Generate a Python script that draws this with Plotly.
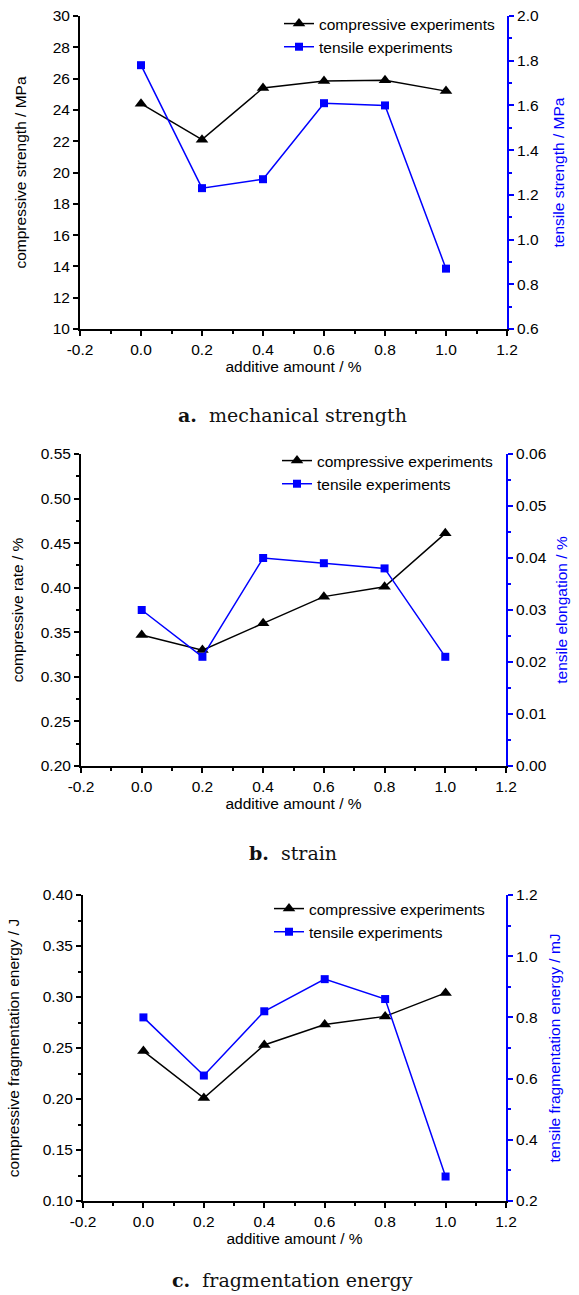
import plotly.graph_objects as go

# ---------------- data ----------------
additive = [0.0, 0.2, 0.4, 0.6, 0.8, 1.0]

# a. mechanical strength
comp_strength = [24.4, 22.1, 25.4, 25.85, 25.9, 25.2]      # MPa
tens_strength = [1.78, 1.23, 1.27, 1.61, 1.60, 0.87]       # MPa

# b. strain
comp_rate = [0.347, 0.330, 0.360, 0.390, 0.401, 0.461]     # %
tens_elong = [0.030, 0.021, 0.040, 0.039, 0.038, 0.021]    # %

# c. fragmentation energy
comp_energy = [0.247, 0.201, 0.253, 0.273, 0.281, 0.304]   # J
tens_energy = [0.80, 0.61, 0.82, 0.925, 0.86, 0.28]        # mJ

x_tickvals = [-0.2, 0.0, 0.2, 0.4, 0.6, 0.8, 1.0, 1.2]
x_ticktext = ["-0.2", "0.0", "0.2", "0.4", "0.6", "0.8", "1.0", "1.2"]

series_names = ["compressive experiments", "tensile experiments"]
captions = ["<b>a.</b>  mechanical strength", "<b>b.</b>  strain", "<b>c.</b>  fragmentation energy"]
left_titles = ["compressive strength / MPa", "compressive rate / %", "compressive fragmentation energy / J"]
right_titles = ["tensile strength / MPa", "tensile elongation / %", "tensile fragmentation energy / mJ"]
x_title = "additive amount / %"

# ---------------- layout helpers ----------------
W, H = 579, 1295
FONT = "Liberation Sans, Arial, sans-serif"
FS = 15.5
BLUE = "#0000FF"

# pixel boxes of plot areas: (left, right, top, bottom)
boxes = [(80, 507, 16, 329), (81, 506, 454, 766), (83, 506, 895, 1201)]
left_ranges = [[10, 30], [0.20, 0.55], [0.10, 0.40]]
left_dticks = [2, 0.05, 0.05]
left_minor = [None, 0.025, 0.025]
left_fmt = ["d", ".2f", ".2f"]
right_ranges = [[0.6, 2.0], [0.0, 0.06], [0.2, 1.2]]
right_dticks = [0.2, 0.01, 0.2]
right_minor = [0.1, 0.005, 0.1]
right_fmt = [".1f", ".2f", ".1f"]
left_standoff = [22, 13, 19]
right_standoff = [15, 11, 12]
legend_pos = [(279, 7), (277, 444), (269, 892)]
caption_y = [415, 853, 1280]

fig = go.Figure()
layout = dict(
    width=W, height=H,
    margin=dict(l=0, r=0, t=0, b=0),
    paper_bgcolor="white", plot_bgcolor="white",
    font=dict(family=FONT, size=FS, color="black"),
    showlegend=True,
    annotations=[],
)

datasets = [(comp_strength, tens_strength), (comp_rate, tens_elong), (comp_energy, tens_energy)]

for i, (left, right, top, bottom) in enumerate(boxes):
    xa = "x" if i == 0 else f"x{i + 1}"
    ya_l = f"y{2 * i + 1}" if i > 0 else "y"
    ya_r = f"y{2 * i + 2}"
    leg = "legend" if i == 0 else f"legend{i + 1}"
    comp, tens = datasets[i]

    fig.add_trace(go.Scatter(
        x=additive, y=comp, xaxis=xa, yaxis=ya_l, mode="lines+markers",
        name=series_names[0], legend=leg,
        line=dict(color="black", width=1.5),
        marker=dict(symbol="triangle-up", size=11, color="black"),
    ))
    fig.add_trace(go.Scatter(
        x=additive, y=tens, xaxis=xa, yaxis=ya_r, mode="lines+markers",
        name=series_names[1], legend=leg,
        line=dict(color=BLUE, width=1.5),
        marker=dict(symbol="square", size=8, color=BLUE),
    ))

    xdom = [left / W, right / W]
    ydom = [1 - bottom / H, 1 - top / H]
    xkey = "xaxis" if i == 0 else f"xaxis{i + 1}"
    ylkey = "yaxis" if i == 0 else f"yaxis{2 * i + 1}"
    yrkey = f"yaxis{2 * i + 2}"

    layout[xkey] = dict(
        domain=xdom, anchor=ya_l, range=[-0.2, 1.2],
        tickmode="array", tickvals=x_tickvals, ticktext=x_ticktext,
        ticks="outside", ticklen=5, tickwidth=1.5, tickcolor="black",
        minor=dict(dtick=0.1, ticks="outside", ticklen=3, tickwidth=1.5, tickcolor="black"),
        showline=True, linecolor="black", linewidth=2,
        showgrid=False, zeroline=False, automargin=False,
        tickfont=dict(size=FS, family=FONT),
        title=dict(text=x_title, font=dict(size=FS, family=FONT), standoff=4),
    )
    ymin = dict(ticks="outside", ticklen=3, tickwidth=1.5, tickcolor="black")
    if left_minor[i]:
        ymin["dtick"] = left_minor[i]
    else:
        ymin["ticks"] = ""
    layout[ylkey] = dict(
        domain=ydom, anchor=xa, range=left_ranges[i], dtick=left_dticks[i], tick0=0,
        tickformat=left_fmt[i],
        ticks="outside", ticklen=5, tickwidth=1.5, tickcolor="black",
        minor=ymin,
        showline=True, linecolor="black", linewidth=2,
        showgrid=False, zeroline=False, automargin=False,
        tickfont=dict(size=FS, family=FONT),
        title=dict(text=left_titles[i], font=dict(size=FS, family=FONT), standoff=left_standoff[i]),
    )
    layout[yrkey] = dict(
        overlaying=ya_l, side="right", anchor=xa,
        range=right_ranges[i], dtick=right_dticks[i], tick0=0, tickformat=right_fmt[i],
        ticks="outside", ticklen=5, tickwidth=1.5, tickcolor=BLUE,
        minor=dict(dtick=right_minor[i], ticks="outside", ticklen=3, tickwidth=1.5, tickcolor=BLUE),
        showline=True, linecolor=BLUE, linewidth=2,
        showgrid=False, zeroline=False, automargin=False,
        tickfont=dict(size=FS, family=FONT, color="black"),
        title=dict(text=right_titles[i], font=dict(size=FS, family=FONT, color=BLUE), standoff=right_standoff[i]),
    )
    lx, ly = legend_pos[i]
    layout[leg] = dict(
        x=lx / W, y=1 - ly / H, xanchor="left", yanchor="top",
        bgcolor="rgba(0,0,0,0)", borderwidth=0,
        font=dict(size=FS, family=FONT, color="black"),
        itemwidth=30, tracegroupgap=0,
    )
    layout["annotations"].append(dict(
        text=captions[i], xref="paper", yref="paper",
        x=293 / W, y=1 - caption_y[i] / H, xanchor="center", yanchor="middle",
        showarrow=False, font=dict(family="DejaVu Serif, serif", size=19, color="#111111"),
    ))

fig.update_layout(**layout)
fig.write_html(
    "out.html",
    config={"displayModeBar": False},
    post_script="document.body.style.margin='0';document.body.style.padding='0';",
)
